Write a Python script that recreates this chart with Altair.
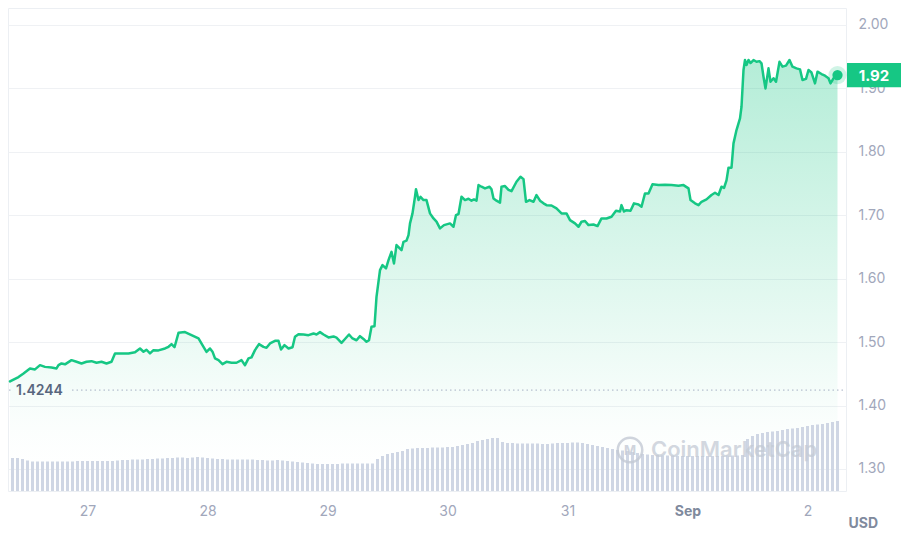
import altair as alt
import pandas as pd

# ---------------- data ----------------
# price points: (hours after 27 Aug 00:00, price in USD)
price_aug26_28 = [
    (-15.5, 1.438), (-13.8, 1.445), (-12.8, 1.4506), (-11.5, 1.4585), (-10.5, 1.457),
    (-9.5, 1.4637), (-8.5, 1.461), (-7.2, 1.460), (-6.2, 1.4585), (-5.8, 1.4637),
    (-5.2, 1.4664), (-4.5, 1.4650), (-3.2, 1.4716), (-2.2, 1.469), (-1.2, 1.4664),
    (-0.2, 1.469), (0.8, 1.470), (1.8, 1.4675), (2.8, 1.469), (3.8, 1.4664),
    (4.8, 1.469), (5.5, 1.4822), (6.8, 1.482), (8.2, 1.4822), (9.5, 1.4840),
    (10.5, 1.490), (11.2, 1.4848), (11.8, 1.488), (12.5, 1.4822), (13.2, 1.4874),
    (14.2, 1.487), (15.5, 1.490), (16.2, 1.4927), (16.8, 1.4968), (17.4, 1.4920),
    (18.2, 1.5147), (19.5, 1.5158), (20.8, 1.511), (22.2, 1.5058),
]
price_aug28_29 = [
    (23.2, 1.4926), (23.8, 1.4847), (24.5, 1.490), (25.0, 1.485), (25.5, 1.4743),
    (26.2, 1.4716), (27.0, 1.4653), (27.8, 1.469), (28.8, 1.4675), (29.8, 1.4675),
    (30.8, 1.4716), (31.5, 1.4637), (32.2, 1.4743), (32.8, 1.476), (33.5, 1.4874),
    (34.3, 1.4968), (35.2, 1.4926), (35.8, 1.491), (36.5, 1.498), (37.5, 1.502),
    (38.2, 1.502), (38.7, 1.4885), (39.4, 1.4953), (40.2, 1.490), (41.0, 1.492),
    (41.5, 1.5084), (42.2, 1.5126), (43.2, 1.512), (44.2, 1.511), (45.2, 1.5137),
    (45.8, 1.512), (46.5, 1.5158), (47.2, 1.512), (48.2, 1.5074), (49.2, 1.509),
    (49.8, 1.507), (50.8, 1.4989), (51.5, 1.505), (52.3, 1.512), (53.0, 1.5058),
    (53.8, 1.503), (54.5, 1.5094), (55.2, 1.505), (55.8, 1.5005), (56.3, 1.503),
    (56.8, 1.5242), (57.4, 1.525),
]
price_aug29_31 = [
    (57.8, 1.5714), (58.5, 1.6136), (59.0, 1.6215), (59.7, 1.6162), (60.2, 1.6293),
    (60.8, 1.6424), (61.3, 1.6241), (61.8, 1.653), (62.8, 1.645), (63.2, 1.6582),
    (63.8, 1.660), (64.2, 1.6688), (64.5, 1.6872), (65.0, 1.703), (65.5, 1.7292),
    (65.7, 1.741), (66.2, 1.724), (66.6, 1.729), (67.2, 1.724), (67.8, 1.724),
    (68.5, 1.703), (69.2, 1.695), (69.8, 1.690), (70.5, 1.6793), (71.3, 1.6845),
    (72.5, 1.6872), (73.2, 1.6819), (73.7, 1.7003), (74.2, 1.702), (74.8, 1.7292),
    (75.5, 1.724), (76.2, 1.726), (76.8, 1.723), (77.3, 1.725), (77.8, 1.723),
    (78.2, 1.7476), (78.8, 1.745), (79.5, 1.7424), (80.4, 1.745), (80.8, 1.741),
    (81.2, 1.7266), (81.8, 1.723), (82.5, 1.720), (82.8, 1.745), (83.5, 1.746),
    (84.2, 1.740), (84.8, 1.738), (85.8, 1.7529), (86.6, 1.7608), (87.2, 1.757),
    (87.7, 1.7213), (88.4, 1.724), (89.2, 1.7213), (89.8, 1.7319), (90.5, 1.723),
    (91.2, 1.7188), (91.8, 1.716), (92.8, 1.7155), (93.8, 1.7108), (94.8, 1.703),
    (95.8, 1.703),
]
price_aug31_sep1 = [
    (96.5, 1.6924), (97.5, 1.6872), (98.2, 1.6819), (98.8, 1.6898), (99.5, 1.691),
    (100.2, 1.6845), (101.2, 1.6855), (102.0, 1.683), (102.8, 1.695), (103.8, 1.695),
    (104.8, 1.6977), (105.7, 1.7071), (106.5, 1.706), (106.8, 1.716), (107.3, 1.706),
    (107.8, 1.708), (108.6, 1.707), (109.3, 1.7188), (110.2, 1.717), (110.8, 1.7135),
    (111.5, 1.7345), (112.2, 1.7345), (113.0, 1.749), (114.2, 1.7476), (115.5, 1.748),
    (116.8, 1.7476), (118.2, 1.7466), (119.2, 1.7476), (120.2, 1.7424), (120.6, 1.724),
    (121.5, 1.7188), (122.2, 1.716), (122.8, 1.7213), (123.8, 1.725), (124.8, 1.732),
    (125.5, 1.7355), (126.2, 1.732), (126.8, 1.745), (127.3, 1.743), (127.8, 1.755),
    (128.2, 1.775),
]
price_sep1_2 = [
    (128.8, 1.775), (129.2, 1.8134), (129.8, 1.8344), (130.5, 1.8528), (130.8, 1.8711),
    (131.2, 1.929), (131.5, 1.9448), (131.8, 1.937), (132.2, 1.9448), (132.6, 1.940),
    (133.2, 1.9448), (133.8, 1.942), (134.4, 1.943), (134.8, 1.9396), (135.2, 1.9185),
    (135.6, 1.900), (136.2, 1.9317), (136.6, 1.9106), (137.2, 1.916), (137.7, 1.9106),
    (138.4, 1.942), (139.0, 1.9343), (139.7, 1.936), (140.4, 1.9448), (141.0, 1.9343),
    (141.8, 1.9317), (142.5, 1.930), (143.0, 1.9132), (143.7, 1.915), (144.2, 1.929),
    (144.8, 1.925), (145.5, 1.908), (146.0, 1.9264), (146.8, 1.9227), (147.5, 1.920),
    (148.2, 1.916), (148.6, 1.908), (149.2, 1.916), (150.0, 1.921),
]

# hourly 24h volume (M USD), starting 26 Aug 09:00
volume_aug26_27 = [33, 33, 32, 30.5] + [29.5] * 9 + [30] * 8
volume_aug27_28 = [30.5, 31, 31, 31.5, 31.5, 31.5, 32, 32, 32.5, 32.5, 33, 33,
                   33.5, 33.5, 33, 33.5, 34, 33.5, 33, 32.5]
volume_aug28_29 = [32, 32, 31.5, 31.5, 31.5, 31.5, 31.5, 31.5, 31, 31, 30.5, 30.5,
                   31, 30.5, 30, 29.5, 29, 28.5, 28, 27.5,
                   27, 27, 27, 27, 27, 27.5, 27.5, 27.5, 27.5, 27.5, 27.5, 27.5]
volume_aug29_31 = [32, 35, 37, 38, 39, 40, 42, 42.5,
                   43, 43, 43, 43.5, 43.5, 43.5, 44, 44,
                   45, 46, 47, 48, 50, 51, 52, 53, 53,
                   49, 48, 48]
volume_aug31_sep1 = [47.5, 47.5, 47.5, 47.5, 47.5, 47, 47, 47.5, 48, 48, 48, 48.5, 48.5,
                     48, 47, 46, 45,
                     44, 43, 42, 41, 40.5, 40, 39, 38, 37, 36.5]
volume_sep1_2 = [36, 36, 35.5, 35.5, 35.5, 35, 35, 35, 35, 35, 35, 35, 35, 35, 35,
                 35.5, 35.5, 35.5, 36,
                 52, 55, 57, 58,
                 59, 59.5, 60, 61, 62, 62.5, 63, 64, 65, 66, 66.5, 67, 68, 69, 70]

open_price = [1.4244]
y_ticks = [1.30, 1.40, 1.50, 1.60, 1.70, 1.80, 1.90, 2.00]
x_tick_days = [(8, 27), (8, 28), (8, 29), (8, 30), (8, 31), (9, 1), (9, 2)]
watermark = ["CoinMarketCap"]

# ---------------- build ----------------
W, H = 838, 483
Y_MIN, Y_MAX = 1.2653, 2.0268
GREEN = "#16c784"
base = pd.Timestamp("2023-08-27 00:00")

pts = price_aug26_28 + price_aug28_29 + price_aug29_31 + price_aug31_sep1 + price_sep1_2
price_df = pd.DataFrame(pts, columns=["h", "price"])
price_df["time"] = base + pd.to_timedelta(price_df["h"], unit="h")
price_df = price_df[["time", "price"]]
last_df = price_df.tail(1).reset_index(drop=True)

volume = (volume_aug26_27 + volume_aug27_28 + volume_aug28_29 + volume_aug29_31
          + volume_aug31_sep1 + volume_sep1_2)
vol_df = pd.DataFrame({
    "time": pd.date_range(base - pd.Timedelta(hours=15), periods=len(volume), freq="h"),
    "volume": volume,
})
open_df = pd.DataFrame({"price": open_price})
wm_df = pd.DataFrame({"label": watermark})

x_scale = alt.Scale(
    domain=[
        alt.DateTime(year=2023, month=8, date=26, hours=8, minutes=6),
        alt.DateTime(year=2023, month=9, date=2, hours=7, minutes=42),
    ],
    padding=0,
)
x_axis = alt.Axis(
    values=[alt.DateTime(year=2023, month=m, date=d) for m, d in x_tick_days],
    labelExpr="date(datum.value) == 1 ? timeFormat(datum.value, '%b') : timeFormat(datum.value, '%-d')",
    labelFontWeight={"condition": {"test": "date(datum.value) == 1", "value": "bold"}, "value": "normal"},
    labelColor={"condition": {"test": "date(datum.value) == 1", "value": "#808a9d"}, "value": "#a1a7bb"},
    labelFont="Inter", labelFontSize=14, labelPadding=13,
    domain=False, ticks=False, grid=False, title=None,
)
x_enc = alt.X("time:T", scale=x_scale, axis=x_axis)

y_scale = alt.Scale(domain=[Y_MIN, Y_MAX], nice=False, zero=False)
y_axis = alt.Axis(
    orient="right", values=y_ticks, format=".2f",
    grid=True, gridColor="#eff1f4", domain=False, ticks=False,
    labelPadding=12, labelFontSize=14, labelColor="#a1a7bb", labelFont="Inter",
    title="USD", titleAngle=0, titleX=2, titleY=515, titleAlign="left",
    titleBaseline="middle", titleFont="Inter", titleFontSize=14,
    titleFontWeight="bold", titleColor="#808a9d",
)
y_enc = alt.Y("price:Q", scale=y_scale, axis=y_axis)

gradient = alt.Gradient(
    gradient="linear",
    stops=[
        alt.GradientStop(color="rgba(22,199,132,0.32)", offset=0),
        alt.GradientStop(color="rgba(22,199,132,0.04)", offset=0.78),
        alt.GradientStop(color="rgba(255,255,255,0)", offset=1),
    ],
    x1=1, x2=1, y1=0, y2=1,
)

area = alt.Chart(price_df).mark_area(color=gradient).encode(
    x=x_enc,
    y=alt.Y("price:Q", scale=y_scale, axis=None),
    y2=alt.datum(Y_MIN),
)

bars = alt.Chart(vol_df).mark_bar(color="#cfd6e4", size=3).encode(
    x=x_enc,
    y=alt.Y("volume:Q", scale=alt.Scale(domain=[0, H], nice=False), axis=None),
)

line = alt.Chart(price_df).mark_line(
    color=GREEN, strokeWidth=2.5, strokeJoin="round", strokeCap="round"
).encode(x=x_enc, y=y_enc)

open_rule = alt.Chart(open_df).mark_rule(
    color="#a6b0c3", strokeDash=[1.5, 3], strokeWidth=1
).encode(x=alt.value(64), x2=alt.value(W), y=y_enc)
open_tick = alt.Chart(open_df).mark_rule(
    color="#a6b0c3", strokeWidth=1
).encode(x=alt.value(1), x2=alt.value(2.5), y=y_enc)
open_label = alt.Chart(open_df).mark_text(
    font="Inter", fontSize=14, fontWeight=600, color="#58667e",
    align="left", baseline="middle", dy=1,
).encode(x=alt.value(8), y=y_enc, text=alt.Text("price:Q", format=".4f"))

halo = alt.Chart(last_df).mark_point(
    shape="circle", size=330, filled=True, color=GREEN, opacity=0.2
).encode(x=x_enc, y=y_enc)
dot = alt.Chart(last_df).mark_point(
    shape="circle", size=105, filled=True, color=GREEN, opacity=1
).encode(x=x_enc, y=y_enc)

badge = alt.Chart(last_df).mark_point(
    shape="M-1,-0.452L1,-0.452L1,0.452L-1,0.452Z", size=2916,
    filled=True, color=GREEN, opacity=1, strokeWidth=0,
).encode(x=alt.value(W + 28), y=y_enc)
badge_text = alt.Chart(last_df).mark_text(
    font="Inter", fontSize=15, fontWeight="bold", color="white",
    align="center", baseline="middle", dy=0.5,
).encode(x=alt.value(W + 28), y=y_enc, text=alt.Text("price:Q", format=".2f"))

wm_circle = alt.Chart(wm_df).mark_point(
    shape="circle", size=600, filled=False, color="#c4cad5", strokeWidth=2.5, opacity=0.8
).encode(x=alt.value(622), y=alt.value(442))
wm_m = alt.Chart(wm_df).mark_text(
    font="Inter", fontSize=13, fontWeight="bold", color="#c4cad5", opacity=0.8,
    align="center", baseline="middle",
).encode(x=alt.value(622), y=alt.value(443), text=alt.value("M"))
wm_text = alt.Chart(wm_df).mark_text(
    font="Inter", fontSize=22, fontWeight=600, color="#c4cad5", opacity=0.75,
    align="left", baseline="middle",
).encode(x=alt.value(643), y=alt.value(442), text="label:N")

top = alt.layer(line, open_rule, open_tick, open_label, halo, dot, badge, badge_text,
                wm_circle, wm_m, wm_text)

chart = alt.layer(area, bars, top).resolve_scale(y="independent").properties(
    width=W, height=H, padding={"left": 0, "top": 0, "right": 0, "bottom": 0},
    background="white",
).configure_view(stroke="#eceff3", strokeWidth=1)

chart.save("out.html", embed_options={"renderer": "svg", "actions": False})
